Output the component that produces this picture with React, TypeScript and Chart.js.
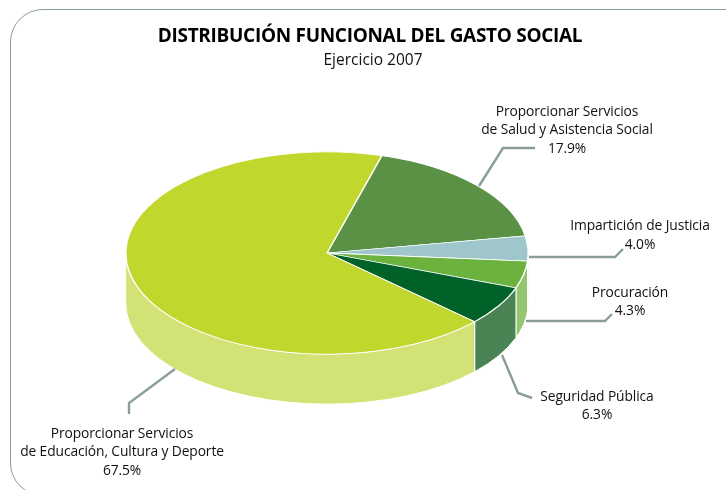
import React, { useEffect, useRef } from "react";
import { Chart, registerables } from "chart.js";

Chart.register(...registerables);

const categories = [
  "Salud y Asistencia Social",
  "Impartición de Justicia",
  "Procuración",
  "Seguridad Pública",
  "Educación, Cultura y Deporte",
];
const values = [17.9, 4.0, 4.3, 6.3, 67.5];
const valueLabels = ["17.9%", "4.0%", "4.3%", "6.3%", "67.5%"];
const nameLines = [
  ["Proporcionar Servicios", "de Salud y Asistencia Social"],
  ["Impartición de Justicia"],
  ["Procuración"],
  ["Seguridad Pública"],
  ["Proporcionar Servicios", "de Educación, Cultura y Deporte"],
];
const titleText = "DISTRIBUCIÓN FUNCIONAL DEL GASTO SOCIAL";
const subtitleText = "Ejercicio 2007";

const topColors = ["#5B9145", "#9FC6CA", "#6BB23E", "#006129", "#C1D72E"];
const sideColors = ["#4A7A3A", "#94C672", "#94C672", "#4A8454", "#D3E274"];

const FONT = '"Open Sans"';
const SQUASH = 0.5025;
const DEPTH = 50;
const LINE = "#8A9E96";

const labelLayout = [
  { x: 567, y: 112 },
  { x: 640, y: 226.5 },
  { x: 630, y: 293 },
  { x: 597, y: 397 },
  { x: 122, y: 434 },
];
const LINE_H = 18.5;
const leaders = [
  [[479, 186], [503, 148], [535, 148]],
  [[529, 257], [615, 257], [623, 249]],
  [[526, 321], [605, 321], [612, 314]],
  [[502, 355], [518, 393], [532, 398]],
  [[175, 369], [129, 403], [129, 414]],
];

const squashPlugin = {
  id: "squash3d",
  beforeDatasetsDraw(chart: any) {
    const ctx = chart.ctx;
    const arcs = chart.getDatasetMeta(0).data;
    const cx = arcs[0].x;
    const cy = arcs[0].y;
    const r = arcs[0].outerRadius;
    const ry = r * SQUASH;

    arcs.forEach((arc: any, i: number) => {
      [0, Math.PI * 2].forEach((off) => {
        const a0 = Math.max(arc.startAngle, off);
        const a1 = Math.min(arc.endAngle, off + Math.PI);
        if (a1 <= a0) return;
        ctx.beginPath();
        ctx.ellipse(cx, cy, r, ry, 0, a0, a1);
        ctx.ellipse(cx, cy + DEPTH, r, ry, 0, a1, a0, true);
        ctx.closePath();
        ctx.fillStyle = sideColors[i];
        ctx.fill();
        ctx.strokeStyle = "#ffffff";
        ctx.lineWidth = 1;
        ctx.stroke();
      });
    });

    ctx.save();
    ctx.translate(0, cy);
    ctx.scale(1, SQUASH);
    ctx.translate(0, -cy);
  },
  afterDatasetsDraw(chart: any) {
    const ctx = chart.ctx;
    ctx.restore();

    ctx.save();
    ctx.strokeStyle = LINE;
    ctx.lineWidth = 2.4;
    ctx.lineJoin = "miter";
    leaders.forEach((pts) => {
      ctx.beginPath();
      pts.forEach(([x, y], k) => (k ? ctx.lineTo(x, y) : ctx.moveTo(x, y)));
      ctx.stroke();
    });

    ctx.textAlign = "center";
    ctx.textBaseline = "middle";
    ctx.fillStyle = "#000000";
    ctx.font = `bold 19px ${FONT}`;
    (ctx as any).letterSpacing = "-0.3px";
    ctx.fillText(titleText, 370, 37);
    (ctx as any).letterSpacing = "0px";
    ctx.fillStyle = "#111111";
    ctx.font = `15.5px ${FONT}`;
    (ctx as any).letterSpacing = "0px";
    ctx.fillText(subtitleText, 373, 61);

    ctx.font = `13.8px ${FONT}`;
    (ctx as any).letterSpacing = "-0.1px";
    categories.forEach((_, i) => {
      const { x, y } = labelLayout[i];
      const lines = [...nameLines[i], valueLabels[i]];
      lines.forEach((t, k) => ctx.fillText(t, x, y + k * LINE_H));
    });
    ctx.restore();
  },
};

export default function App() {
  const ref = useRef<HTMLCanvasElement>(null);
  useEffect(() => {
    const chart = new Chart(ref.current!, {
      type: "pie",
      data: {
        labels: categories,
        datasets: [
          {
            data: values,
            backgroundColor: topColors,
            borderColor: "#ffffff",
            borderWidth: 1.5,
            clip: false,
          } as any,
        ],
      },
      options: {
        responsive: false,
        animation: false,
        rotation: 15.8,
        layout: { padding: { left: 125, right: 197, top: 51, bottom: 35 } },
        plugins: { legend: { display: false }, tooltip: { enabled: false }, title: { display: false } },
      },
      plugins: [squashPlugin],
    } as any);
    return () => chart.destroy();
  }, []);
  return (
    <div style={{ position: "absolute", left: 0, top: 0, width: 726, height: 490, overflow: "hidden", background: "#fff" }}>
      <div
        style={{
          position: "absolute",
          left: 10,
          top: 9,
          width: 800,
          height: 487,
          border: "1.5px solid #8A9E96",
          borderRadius: 33,
          boxSizing: "border-box",
        }}
      />
      <canvas ref={ref} width={726} height={490} style={{ position: "absolute", left: 0, top: 0, display: "block" }} />
    </div>
  );
}
